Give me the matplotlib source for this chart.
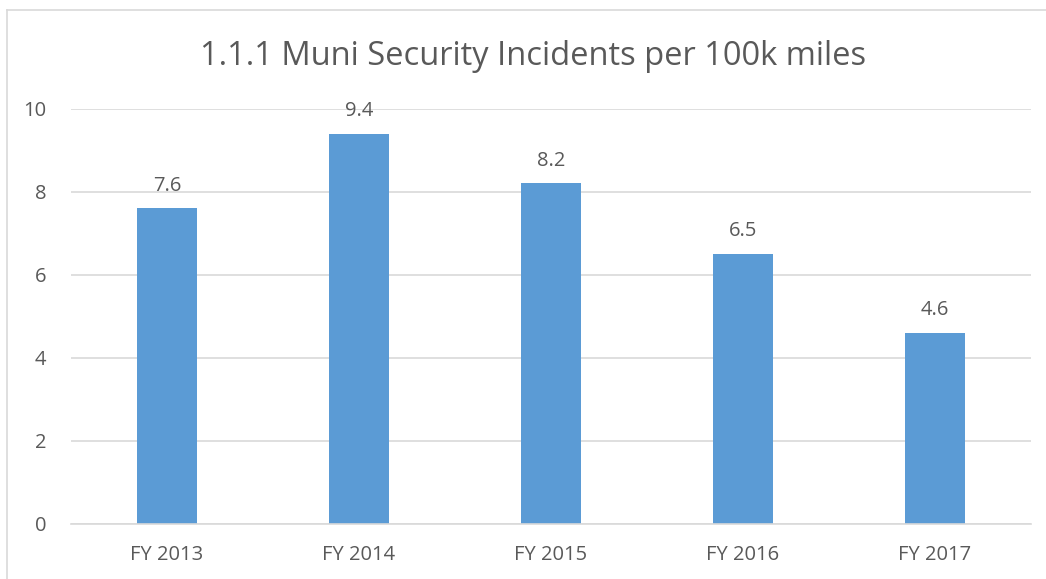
import matplotlib.pyplot as plt
from matplotlib.lines import Line2D

# data
categories = ["FY 2013", "FY 2014", "FY 2015", "FY 2016", "FY 2017"]
incidents = [7.6, 9.4, 8.2, 6.5, 4.6]
y_ticks = [0, 2, 4, 6, 8, 10]

text_color = '#595959'
bar_color = '#5b9bd5'
grid_color = '#d9d9d9'

plt.rcParams['font.family'] = ['Open Sans', 'DejaVu Sans']

fig = plt.figure(figsize=(10.46, 5.79), dpi=100)
ax = fig.add_axes([0.0679, 0.0955, 0.9178, 0.7168])

x = range(len(categories))
bars = ax.bar(x, incidents, width=0.31, color=bar_color, zorder=2)

# value labels above the bars
for xi, v in zip(x, incidents):
    ax.annotate(f"{v:.1f}", (xi, v), xytext=(0, 9), textcoords='offset points',
                ha='center', va='bottom', fontsize=14.5, color=text_color)

ax.set_xlim(-0.5, len(categories) - 0.5)
ax.set_ylim(0, 10)
ax.set_yticks(y_ticks)
ax.set_xticks(list(x))
ax.set_xticklabels(categories)
ax.tick_params(axis='both', length=0, labelsize=14.5, labelcolor=text_color)
ax.tick_params(axis='y', pad=18)
ax.tick_params(axis='x', pad=15)

ax.grid(axis='y', color=grid_color, linewidth=1.2, zorder=0)
for side in ['top', 'right', 'left']:
    ax.spines[side].set_visible(False)
ax.spines['bottom'].set_color(grid_color)
ax.spines['bottom'].set_linewidth(1.2)

fig.text(0.51, 0.903, "1.1.1 Muni Security Incidents per 100k miles",
         ha='center', va='center', fontsize=23.5, color=text_color)

# chart frame (top and left edges visible)
fig.add_artist(Line2D([0.0067, 1.0], [0.982, 0.982], color=grid_color, linewidth=1.2))
fig.add_artist(Line2D([0.0067, 0.0067], [0.0, 0.982], color=grid_color, linewidth=1.2))

fig.savefig('out.png', dpi=100)
